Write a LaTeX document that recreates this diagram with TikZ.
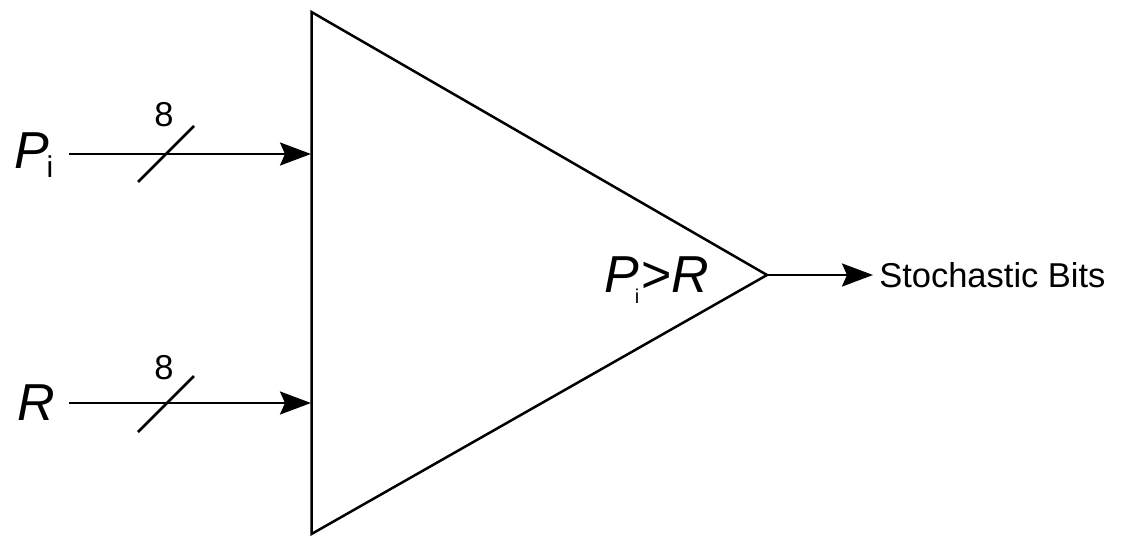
\documentclass[tikz,border=0pt]{standalone}
\usepackage{fontspec}
\setmainfont{Liberation Sans}
\usetikzlibrary{arrows.meta}

\begin{document}
\begin{tikzpicture}[x=1pt, y=-1pt, line width=2.5pt,
	bus/.style={-{Stealth[length=31pt, width=23pt, inset=5pt]}},
	lbl/.style={inner sep=0pt, anchor=base west, font=\fontsize{52}{52}\selectfont\itshape},
	small/.style={inner sep=0pt, anchor=base, font=\fontsize{34.5}{34.5}\selectfont},
	]
	\useasboundingbox (0,0) rectangle (1126,535);

	% Triangle
	\coordinate (TopCorner) at (311.5,12);
	\coordinate (BotCorner) at (311.5,534);
	\coordinate (Tip) at (767,275);
	\draw[line join=miter] (TopCorner) -- (Tip) -- (BotCorner) -- cycle;

	% Entrees
	\node[lbl] (Pi) at (13,168) {P};
	\node[inner sep=0pt, anchor=base, font=\fontsize{30}{30}\selectfont] (PiSub) at (50,177) {i};
	\node[lbl] (R) at (16,420) {R};
	\coordinate (PiIn) at (311,154);
	\coordinate (RIn) at (311,403);
	\coordinate (PiStart) at (69,154);
	\coordinate (RStart) at (69,403);
	\draw[bus] (PiStart) -- (PiIn);
	\draw[bus] (RStart) -- (RIn);

	% Barres de bus
	\draw (138,182) -- (194,126);
	\draw (138,432) -- (194,376);
	\node[small] (PiWidth) at (164,126) {8};
	\node[small] (RWidth) at (164,379) {8};

	% Sortie
	\node[inner sep=0pt, anchor=base west, font=\fontsize{34.5}{34.5}\selectfont] (Out) at (878,287) {Stochastic Bits};
	\coordinate (OutEnd) at (873,275);
	\draw[bus] (Tip) -- (OutEnd);

	% Condition
	\node[lbl] (CondP) at (603,292) {P};
	\node[inner sep=0pt, anchor=base, font=\fontsize{20}{20}\selectfont] (CondSub) at (637,303) {i};
	\node[inner sep=0pt, anchor=base west, font=\fontsize{52}{52}\selectfont] (CondGt) at (640,292) {>};
	\node[lbl] (CondR) at (670,292) {R};
\end{tikzpicture}
\end{document}
